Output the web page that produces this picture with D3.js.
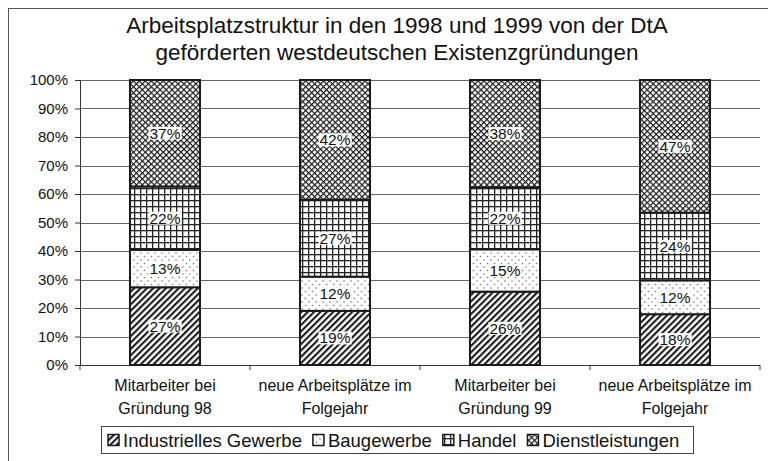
<!DOCTYPE html>
<html>
<head>
<meta charset="utf-8">
<script src="https://cdn.jsdelivr.net/npm/d3@7"></script>
<style>
  body { margin: 0; background: #fff; }
  text { font-family: Arial, "Liberation Sans", sans-serif; fill: #111; }
</style>
</head>
<body>
<div id="chart"></div>
<script>
(function() {
  'use strict';

  var svgW = 768,
    svgH = 461;

  // data
  var titleLines = ['Arbeitsplatzstruktur in den 1998 und 1999 von der DtA',
    'geförderten westdeutschen Existenzgründungen'];
  var categories = [
    ['Mitarbeiter bei', 'Gründung 98'],
    ['neue Arbeitsplätze im', 'Folgejahr'],
    ['Mitarbeiter bei', 'Gründung 99'],
    ['neue Arbeitsplätze im', 'Folgejahr']
  ];
  var seriesNames = ['Industrielles Gewerbe', 'Baugewerbe', 'Handel', 'Dienstleistungen'];
  var industrie = [27, 19, 26, 18];
  var bau = [13, 12, 15, 12];
  var handel = [22, 27, 22, 24];
  var dienst = [37, 42, 38, 47];
  var yTicks = [0, 0.1, 0.2, 0.3, 0.4, 0.5, 0.6, 0.7, 0.8, 0.9, 1];

  var margin = { left: 80, top: 80 };
  var plotW = 760 - margin.left,
    plotH = 365 - margin.top;

  var svg = d3.select('#chart')
    .append('svg')
    .attr('width', svgW)
    .attr('height', svgH);

  // patterns
  var defs = svg.append('defs');

  var p0 = defs.append('pattern').attr('id', 'pat0')
    .attr('patternUnits', 'userSpaceOnUse')
    .attr('width', 4.5).attr('height', 4.5)
    .attr('patternTransform', 'rotate(45)');
  p0.append('rect').attr('width', 4.5).attr('height', 4.5).attr('fill', '#fff');
  p0.append('rect').attr('width', 2.1).attr('height', 4.5).attr('fill', '#1a1a1a');

  var p1 = defs.append('pattern').attr('id', 'pat1')
    .attr('patternUnits', 'userSpaceOnUse')
    .attr('width', 7).attr('height', 7);
  p1.append('rect').attr('width', 7).attr('height', 7).attr('fill', '#fff');
  p1.selectAll('circle')
    .data([[1.5, 1.5], [5, 5]])
    .enter()
    .append('circle')
    .attr('cx', function(d) { return d[0]; })
    .attr('cy', function(d) { return d[1]; })
    .attr('r', 0.8)
    .attr('fill', '#777');

  var p2 = defs.append('pattern').attr('id', 'pat2')
    .attr('patternUnits', 'userSpaceOnUse')
    .attr('width', 6).attr('height', 6);
  p2.append('rect').attr('width', 6).attr('height', 6).attr('fill', '#fff');
  p2.append('rect').attr('width', 1.3).attr('height', 6).attr('fill', '#222');
  p2.append('rect').attr('width', 6).attr('height', 1.3).attr('fill', '#222');

  var p3 = defs.append('pattern').attr('id', 'pat3')
    .attr('patternUnits', 'userSpaceOnUse')
    .attr('width', 4.2).attr('height', 4.2)
    .attr('patternTransform', 'rotate(45)');
  p3.append('rect').attr('width', 4.2).attr('height', 4.2).attr('fill', '#fff');
  p3.append('rect').attr('width', 1.2).attr('height', 4.2).attr('fill', '#1a1a1a');
  p3.append('rect').attr('width', 4.2).attr('height', 1.2).attr('fill', '#1a1a1a');

  var patterns = ['url(#pat0)', 'url(#pat1)', 'url(#pat2)', 'url(#pat3)'];

  // outer frame
  svg.append('rect')
    .attr('x', 8.5).attr('y', 8.5)
    .attr('width', svgW + 10).attr('height', svgH + 10)
    .attr('fill', 'none').attr('stroke', '#555').attr('stroke-width', 1);

  // title
  svg.append('text')
    .attr('text-anchor', 'middle')
    .style('font-size', '22.5px')
    .selectAll('tspan')
    .data(titleLines)
    .enter()
    .append('tspan')
    .attr('x', 397)
    .attr('y', function(d, i) { return 33 + i * 27; })
    .text(function(d) { return d; });

  var g = svg.append('g')
    .attr('transform', 'translate(' + margin.left + ',' + margin.top + ')');

  var x = d3.scaleBand()
    .domain(d3.range(categories.length))
    .range([0, plotW])
    .paddingInner(0.588)
    .paddingOuter(0.294);

  var y = d3.scaleLinear()
    .domain([0, 1])
    .range([plotH, 0]);

  // gridlines
  g.selectAll('.grid')
    .data(yTicks)
    .enter()
    .append('line')
    .attr('x1', 0).attr('x2', plotW)
    .attr('y1', function(d) { return Math.round(y(d)) + 0.5; })
    .attr('y2', function(d) { return Math.round(y(d)) + 0.5; })
    .attr('stroke', '#666').attr('stroke-width', 1);

  // y axis
  var yAxis = g.append('g')
    .call(d3.axisLeft(y).tickValues(yTicks).tickFormat(d3.format('.0%')).tickSize(5).tickPadding(7));
  yAxis.select('.domain').attr('stroke', '#333');
  yAxis.selectAll('.tick line').attr('stroke', '#333');
  yAxis.selectAll('text').style('font-size', '15px').style('font-family', 'Arial, "Liberation Sans", sans-serif').attr('fill', '#111');

  // x axis baseline + ticks at category boundaries
  var bandStep = plotW / categories.length;
  g.append('line')
    .attr('x1', 0).attr('x2', plotW)
    .attr('y1', plotH + 0.5).attr('y2', plotH + 0.5)
    .attr('stroke', '#333');
  g.selectAll('.xtick')
    .data(d3.range(categories.length + 1))
    .enter()
    .append('line')
    .attr('x1', function(d) { return d * bandStep; })
    .attr('x2', function(d) { return d * bandStep; })
    .attr('y1', plotH).attr('y2', plotH + 5)
    .attr('stroke', '#333');

  // stacked data (100% stacked)
  var rows = categories.map(function(c, i) {
    return { i: i, s0: industrie[i], s1: bau[i], s2: handel[i], s3: dienst[i] };
  });
  var stack = d3.stack()
    .keys(['s0', 's1', 's2', 's3'])
    .offset(d3.stackOffsetExpand);
  var stacked = stack(rows);
  var rawSeries = [industrie, bau, handel, dienst];

  var layers = g.selectAll('.layer')
    .data(stacked)
    .enter()
    .append('g')
    .attr('fill', function(d, k) { return patterns[k]; });

  layers.selectAll('rect')
    .data(function(d) { return d; })
    .enter()
    .append('rect')
    .attr('x', function(d) { return x(d.data.i); })
    .attr('width', x.bandwidth())
    .attr('y', function(d) { return y(d[1]); })
    .attr('height', function(d) { return y(d[0]) - y(d[1]); })
    .attr('stroke', '#1a1a1a')
    .attr('stroke-width', 2);

  // data labels with white background
  stacked.forEach(function(layer, k) {
    layer.forEach(function(d, i) {
      var cx = x(i) + x.bandwidth() / 2,
        cy = (y(d[0]) + y(d[1])) / 2;
      var lbl = g.append('g');
      var t = lbl.append('text')
        .attr('x', cx)
        .attr('y', cy + 5.5)
        .attr('text-anchor', 'middle')
        .style('font-size', '15.5px')
        .text(rawSeries[k][i] + '%');
      var bb = t.node().getBBox();
      lbl.insert('rect', 'text')
        .attr('x', bb.x - 1).attr('y', bb.y + 2)
        .attr('width', bb.width + 2).attr('height', bb.height - 4)
        .attr('fill', '#fff');
    });
  });

  // category labels
  g.selectAll('.cat')
    .data(categories)
    .enter()
    .append('text')
    .attr('text-anchor', 'middle')
    .style('font-size', '16px')
    .each(function(d, i) {
      d3.select(this).selectAll('tspan')
        .data(d)
        .enter()
        .append('tspan')
        .attr('x', x(i) + x.bandwidth() / 2)
        .attr('y', function(t, j) { return plotH + 26 + j * 23; })
        .text(function(t) { return t; });
    });

  // legend
  var legend = svg.append('g');
  legend.append('rect')
    .attr('x', 101.5).attr('y', 426.5)
    .attr('width', 592).attr('height', 27)
    .attr('fill', '#fff').attr('stroke', '#444');

  var lx = 108;
  seriesNames.forEach(function(name, k) {
    legend.append('rect')
      .attr('x', lx).attr('y', 434.5)
      .attr('width', 11).attr('height', 11)
      .attr('fill', patterns[k])
      .attr('stroke', '#1a1a1a').attr('stroke-width', 1.5);
    var t = legend.append('text')
      .attr('x', lx + 15)
      .attr('y', 446.5)
      .style('font-size', '18.5px')
      .text(name);
    lx += 15 + t.node().getComputedTextLength() + 11;
  });

}());
</script>
</body>
</html>
